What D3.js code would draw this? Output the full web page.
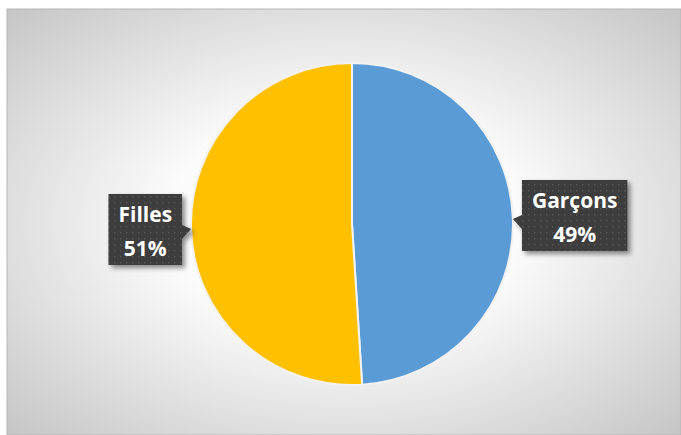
<!DOCTYPE html>
<html>
<head>
<meta charset="utf-8">
<script src="https://cdn.jsdelivr.net/npm/d3@7"></script>
<style>
  body { margin: 0; background: #fff; }
</style>
</head>
<body>
<div id="viz"></div>
<script>
const categories = ["Garçons", "Filles"];
const values = [49, 51];
const colors = ["#5b9bd5", "#ffc000"];

const width = 681;
const height = 435;

const svg = d3.select("#viz").append("svg")
    .attr("width", width)
    .attr("height", height);

const defs = svg.append("defs");

const bg = defs.append("radialGradient")
    .attr("id", "bg")
    .attr("cx", "50%").attr("cy", "50%").attr("r", "75%");
bg.append("stop").attr("offset", "0%").attr("stop-color", "#ffffff");
bg.append("stop").attr("offset", "35%").attr("stop-color", "#fbfbfb");
bg.append("stop").attr("offset", "100%").attr("stop-color", "#c0c0c0");

const dots = defs.append("pattern")
    .attr("id", "dots")
    .attr("width", 6).attr("height", 6)
    .attr("patternUnits", "userSpaceOnUse");
dots.append("rect").attr("width", 6).attr("height", 6).attr("fill", "#3c3c3c");
dots.append("rect").attr("x", 2).attr("y", 2).attr("width", 1.5).attr("height", 1.5).attr("fill", "#585858");

const shadow = defs.append("filter")
    .attr("id", "shadow")
    .attr("x", "-20%").attr("y", "-20%").attr("width", "150%").attr("height", "150%");
shadow.append("feDropShadow")
    .attr("dx", 3).attr("dy", 3).attr("stdDeviation", 2.5)
    .attr("flood-color", "#000").attr("flood-opacity", 0.45);

// chart area
svg.append("rect")
    .attr("x", 7).attr("y", 9)
    .attr("width", 674).attr("height", 426)
    .attr("fill", "url(#bg)")
    .attr("stroke", "#b5b5b5")
    .attr("stroke-width", 1);

const cx = 352, cy = 224, radius = 161;

const pie = d3.pie().sort(null).value(d => d);
const arcs = pie(values);

const arc = d3.arc().innerRadius(0).outerRadius(radius);

const g = svg.append("g").attr("transform", `translate(${cx},${cy})`);

g.selectAll("path")
    .data(arcs)
    .enter()
    .append("path")
    .attr("d", arc)
    .attr("fill", (d, i) => colors[i])
    .attr("stroke", "#f2f2f2")
    .attr("stroke-width", 2);

// data labels (callouts)
const labels = g.selectAll("g.label")
    .data(arcs)
    .enter()
    .append("g")
    .attr("class", "label");

labels.each(function (d, i) {
    const sel = d3.select(this);
    const mid = (d.startAngle + d.endAngle) / 2;
    const tipX = Math.sin(mid) * radius;
    const tipY = -Math.cos(mid) * radius;
    const right = tipX > 0;

    const txt = sel.append("text")
        .attr("text-anchor", "middle")
        .attr("fill", "#fff")
        .style("font-family", "'Open Sans', 'Noto Sans', sans-serif")
        .style("font-weight", "bold")
        .style("font-size", "21px");
    txt.append("tspan").attr("x", 0).attr("dy", 0).text(categories[i]);
    const pct = Math.round(d.value / d3.sum(values) * 100) + "%";
    txt.append("tspan").attr("x", 0).attr("dy", 34).text(pct);

    const bb = txt.node().getBBox();
    const padX = 10;
    const w = bb.width + padX * 2;
    const h = 71;
    const gap = 9;
    const x0 = right ? tipX + gap : tipX - gap - w;
    const y0 = tipY - (right ? 39 : 35);
    const py1 = tipY - 4, py2 = tipY + 10;

    let p;
    if (right) {
        p = `M${x0},${y0} H${x0 + w} V${y0 + h} H${x0} V${py2} L${tipX},${tipY} L${x0},${py1} Z`;
    } else {
        p = `M${x0},${y0} H${x0 + w} V${py1} L${tipX},${tipY} L${x0 + w},${py2} V${y0 + h} H${x0} Z`;
    }
    sel.insert("path", "text")
        .attr("d", p)
        .attr("fill", "url(#dots)")
        .attr("filter", "url(#shadow)");

    txt.attr("transform", `translate(${x0 + w / 2},${y0 + 28})`);
});
</script>
</body>
</html>
